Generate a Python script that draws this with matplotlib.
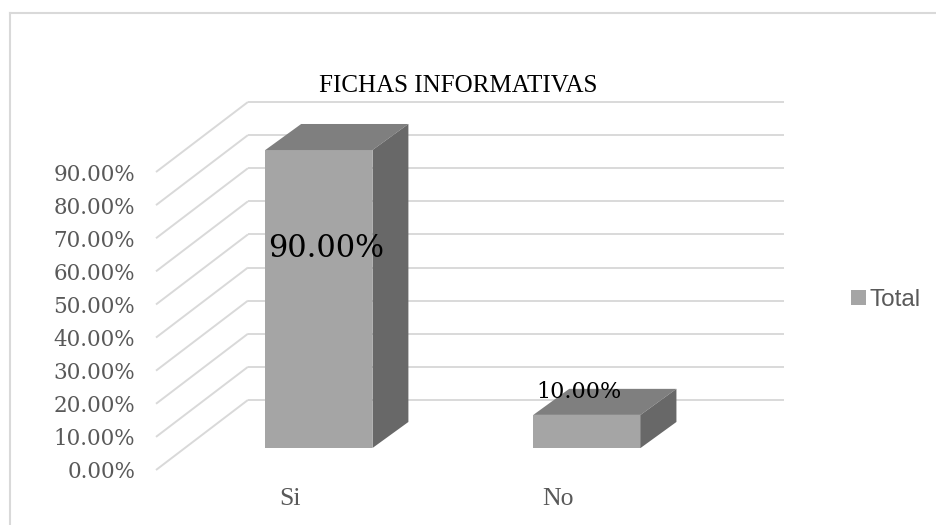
import matplotlib
matplotlib.use("Agg")
import matplotlib.pyplot as plt
from matplotlib.patches import Polygon, Patch
from matplotlib.lines import Line2D

# dados do gráfico
categorias = ["Si", "No"]
valores = [0.90, 0.10]
ticks_y = [0.0, 0.1, 0.2, 0.3, 0.4, 0.5, 0.6, 0.7, 0.8, 0.9]
titulo = "FICHAS INFORMATIVAS"
serie = "Total"
tamanho_rotulos = [22, 16]

COR_FRENTE = "#a5a5a5"
COR_TOPO = "#7f7f7f"
COR_LADO = "#686868"
COR_GRADE = "#d9d9d9"
COR_TEXTO = "#595959"

# projeção oblíqua simples (profundidade da caixa 3D)
PROF_X = 0.343
PROF_Y = 0.2115
LARGURA = 0.40
D0, D1 = 0.314, 0.686

W, H = 936, 525
fig = plt.figure(figsize=(W / 100, H / 100), dpi=100)
ax = fig.add_axes([156 / W, 55 / H, 628 / W, 368 / H])
ax.set_facecolor("none")
ax.set_xlim(0, len(categorias) + PROF_X)
ax.set_ylim(0, max(ticks_y) + PROF_Y)

# grade: diagonais na parede lateral e horizontais no fundo
for t in ticks_y:
    ax.plot([0, PROF_X], [t, t + PROF_Y], color=COR_GRADE, lw=1.4, zorder=1,
            clip_on=False, solid_capstyle="butt")
    ax.plot([PROF_X, len(categorias) + PROF_X], [t + PROF_Y, t + PROF_Y],
            color=COR_GRADE, lw=1.4, zorder=1, clip_on=False, solid_capstyle="butt")

# barras 3D
dx = (D1 - D0) * PROF_X * 1.05
dy = (D1 - D0) * PROF_Y
for i, v in enumerate(valores):
    x0 = i + 0.5 - LARGURA / 2 + D0 * PROF_X
    y0 = D0 * PROF_Y
    ax.bar(x0, v, width=LARGURA, bottom=y0, align="edge", color=COR_FRENTE,
           zorder=3, clip_on=False)
    topo = Polygon([(x0, y0 + v), (x0 + LARGURA, y0 + v),
                    (x0 + LARGURA + dx, y0 + v + dy), (x0 + dx, y0 + v + dy)],
                   closed=True, fc=COR_TOPO, ec="none", zorder=3, clip_on=False)
    lado = Polygon([(x0 + LARGURA, y0), (x0 + LARGURA + dx, y0 + dy),
                    (x0 + LARGURA + dx, y0 + v + dy), (x0 + LARGURA, y0 + v)],
                   closed=True, fc=COR_LADO, ec="none", zorder=3, clip_on=False)
    ax.add_patch(topo)
    ax.add_patch(lado)

    ax.text(x0 + 0.012, v * 0.54 + 0.182, f"{v * 100:.2f}%",
            ha="left", va="center", fontsize=tamanho_rotulos[i],
            family="DejaVu Serif", color="#000000", zorder=5)

# eixos
ax.set_yticks(ticks_y)
ax.set_yticklabels([f"{t * 100:.2f}%" for t in ticks_y],
                   family="DejaVu Serif", fontsize=15.5, color=COR_TEXTO)
ax.set_xticks([i + 0.5 for i in range(len(categorias))])
ax.set_xticklabels(categorias, family="Liberation Serif", fontsize=18.5,
                   color=COR_TEXTO)
ax.tick_params(axis="y", length=0, pad=15)
ax.tick_params(axis="x", length=0, pad=13)
for s in ax.spines.values():
    s.set_visible(False)

# título
fig.text(458 / W, 1 - 92 / H, titulo, ha="center", va="baseline",
         family="Liberation Serif", fontsize=18, color="#000000")

# legenda
fig.legend(handles=[Patch(fc=COR_FRENTE, ec="none")], labels=[serie],
           loc="center left", bbox_to_anchor=(851 / W, 1 - 300 / H),
           frameon=False, prop={"family": "Liberation Sans", "size": 17.5},
           labelcolor=COR_TEXTO, handlelength=0.6, handleheight=0.6,
           handletextpad=0.15, borderpad=0, borderaxespad=0)

# borda da área do gráfico
fig.add_artist(Line2D([9.5 / W, 9.5 / W], [0, 1 - 13 / H],
                      transform=fig.transFigure, color=COR_GRADE, lw=1.5))
fig.add_artist(Line2D([9.5 / W, 1], [1 - 13 / H, 1 - 13 / H],
                      transform=fig.transFigure, color=COR_GRADE, lw=1.5))

fig.savefig("out.png", dpi=100, facecolor="white")
